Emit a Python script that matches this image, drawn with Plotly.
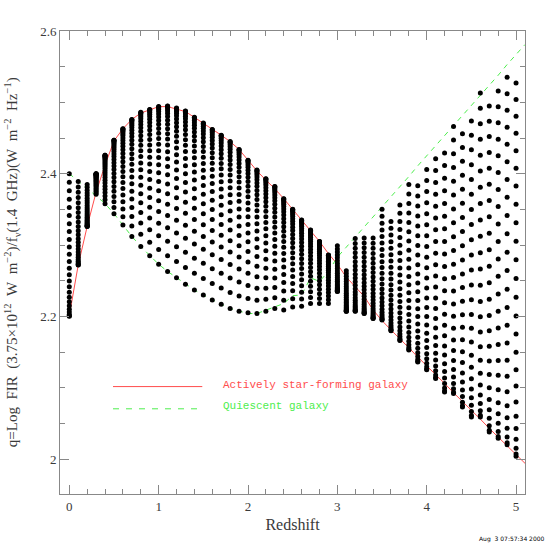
import numpy as np
import plotly.graph_objects as go

# redshift grid of the model columns
redshift = [0.0, 0.1, 0.2, 0.3, 0.4, 0.5, 0.6, 0.7, 0.8, 0.9,
            1.0, 1.1, 1.2, 1.3, 1.4, 1.5, 1.6, 1.7, 1.8, 1.9,
            2.0, 2.1, 2.2, 2.3, 2.4, 2.5, 2.6, 2.7, 2.8, 2.9,
            3.0, 3.1, 3.2, 3.3, 3.4, 3.5, 3.6, 3.7, 3.8, 3.9,
            4.0, 4.1, 4.2, 4.3, 4.4, 4.5, 4.6, 4.7, 4.8, 4.9, 5.0]

# curves (one extra point at z=5.1, the right edge)
curve_z = redshift + [5.1]
q_active = [2.201, 2.272, 2.326, 2.374, 2.412, 2.446, 2.463, 2.476, 2.485, 2.490,
            2.494, 2.494, 2.491, 2.487, 2.479, 2.471, 2.462, 2.454, 2.445, 2.434,
            2.419, 2.404, 2.391, 2.379, 2.365, 2.350, 2.335, 2.320, 2.305, 2.288,
            2.273, 2.255, 2.242, 2.228, 2.209, 2.194, 2.181, 2.169, 2.156, 2.143,
            2.131, 2.118, 2.106, 2.093, 2.081, 2.068, 2.056, 2.043, 2.031, 2.018,
            2.006, 1.994]
q_quiescent = [2.400, 2.389, 2.379, 2.369, 2.358, 2.344, 2.328, 2.312, 2.298, 2.285,
               2.273, 2.263, 2.254, 2.245, 2.237, 2.230, 2.223, 2.217, 2.211, 2.207,
               2.204, 2.204, 2.209, 2.214, 2.218, 2.229, 2.230, 2.254, 2.249, 2.263,
               2.283, 2.297, 2.311, 2.326, 2.340, 2.354, 2.368, 2.382, 2.396, 2.411,
               2.425, 2.439, 2.453, 2.467, 2.482, 2.496, 2.510, 2.524, 2.538, 2.553,
               2.567, 2.581]

# ends of each column of mixed models (active-dominated end / quiescent end)
dots_active_end = [2.200, 2.272, 2.326, 2.400, 2.426, 2.447, 2.463, 2.476, 2.486, 2.490,
                   2.494, 2.495, 2.492, 2.488, 2.479, 2.471, 2.462, 2.454, 2.445, 2.434,
                   2.419, 2.405, 2.393, 2.382, 2.365, 2.350, 2.335, 2.321, 2.305, 2.286,
                   2.235, 2.207, 2.207, 2.204, 2.197, 2.195, 2.180, 2.166, 2.153, 2.136,
                   2.125, 2.113, 2.094, 2.092, 2.073, 2.059, 2.059, 2.038, 2.029, 2.020,
                   2.004]
dots_quiescent_end = [2.400, 2.389, 2.385, 2.371, 2.358, 2.344, 2.328, 2.312, 2.298, 2.285,
                      2.273, 2.263, 2.254, 2.245, 2.237, 2.230, 2.223, 2.217, 2.211, 2.207,
                      2.205, 2.204, 2.207, 2.211, 2.209, 2.213, 2.214, 2.218, 2.218, 2.218,
                      2.299, 2.264, 2.309, 2.310, 2.310, 2.350, 2.333, 2.356, 2.385, 2.383,
                      2.406, 2.421, 2.429, 2.466, 2.456, 2.474, 2.513, 2.495, 2.516, 2.535,
                      2.527]

# radio-weighted fraction of the active component
mix_fraction = [0.0, 0.074, 0.145, 0.214, 0.280, 0.343, 0.404, 0.462, 0.518, 0.571,
                0.621, 0.668, 0.713, 0.755, 0.793, 0.829, 0.862, 0.891, 0.918, 0.941,
                0.960, 0.976, 0.989, 0.997, 1.0]

SERIF = "Liberation Serif, Times New Roman, serif"
MONO = "Liberation Mono, Courier New, monospace"
RED = "#ff4d4d"
GREEN = "#4dee4d"
TEXT = "#3a3a3a"
SP = "\u00a0\u00a0"

dot_x, dot_y = [], []
for z, qa, qq in zip(redshift, dots_active_end, dots_quiescent_end):
    for u in mix_fraction:
        dot_x.append(z)
        dot_y.append(np.log10(u * 10 ** qa + (1 - u) * 10 ** qq))

fig = go.Figure()
fig.add_trace(go.Scatter(x=curve_z, y=q_active, mode="lines",
                         line=dict(color=RED, width=1), showlegend=False))
fig.add_trace(go.Scatter(x=curve_z, y=q_quiescent, mode="lines",
                         line=dict(color=GREEN, width=1, dash="5px,5px"), showlegend=False))
fig.add_trace(go.Scatter(x=dot_x, y=dot_y, mode="markers",
                         marker=dict(color="black", size=5, line=dict(width=0)),
                         showlegend=False))

# legend drawn inside the frame
fig.add_shape(type="line", xref="paper", yref="paper", x0=0.114, x1=0.306, y0=0.232, y1=0.232,
              line=dict(color=RED, width=1))
fig.add_shape(type="line", xref="paper", yref="paper", x0=0.114, x1=0.306, y0=0.184, y1=0.184,
              line=dict(color=GREEN, width=1, dash="6px,7px"))
fig.add_annotation(xref="paper", yref="paper", x=0.346, y=0.235, xanchor="left", yanchor="middle",
                   text="Actively star-forming galaxy", showarrow=False,
                   font=dict(family=MONO, size=11, color=RED))
fig.add_annotation(xref="paper", yref="paper", x=0.346, y=0.191, xanchor="left", yanchor="middle",
                   text="Quiescent galaxy", showarrow=False,
                   font=dict(family=MONO, size=11, color=GREEN))

fig.add_annotation(xref="paper", yref="paper", x=1.047, y=-0.098, xanchor="right", yanchor="middle",
                   text="Aug  3 07:57:34 2000", showarrow=False,
                   font=dict(family="DejaVu Sans", size=6, color="black"))

ytitle = ("q=Log" + SP + "FIR" + SP + "(3.75×10<sup>12</sup>" + SP + "W" + SP + "m<sup>−2</sup>)"
          "/f<sub>ν</sub>(1.4" + SP + "GHz)(W" + SP + "m<sup>−2</sup>" + SP + "Hz<sup>−1</sup>)")
fig.add_annotation(xref="paper", yref="paper", x=-0.104, y=0.5, xanchor="center", yanchor="middle",
                   textangle=-90, showarrow=False, text=ytitle,
                   font=dict(family=SERIF, size=15, color=TEXT))

axis_common = dict(showgrid=False, zeroline=False, showline=True, linecolor="#888", linewidth=1,
                   mirror="ticks", ticks="inside", ticklen=9, tickcolor="#888",
                   tickfont=dict(family=SERIF, size=13, color=TEXT))

fig.update_layout(
    width=554, height=554,
    margin=dict(l=60, r=29, t=31, b=60),
    plot_bgcolor="white", paper_bgcolor="white",
    xaxis=dict(range=[-0.104, 5.1], tickvals=[0, 1, 2, 3, 4, 5],
               minor=dict(dtick=0.2, tick0=0, ticks="inside", ticklen=5, tickcolor="#888"),
               title=dict(text="Redshift", font=dict(family=SERIF, size=16, color=TEXT), standoff=6),
               **axis_common),
    yaxis=dict(range=[1.951, 2.6], tickvals=[2.0, 2.2, 2.4, 2.6], ticktext=["2", "2.2", "2.4", "2.6"],
               minor=dict(dtick=0.05, tick0=2.0, ticks="inside", ticklen=5, tickcolor="#888"),
               **axis_common),
)

fig.write_html("out.html", config={"displayModeBar": False},
               post_script="document.body.style.margin='0';")
